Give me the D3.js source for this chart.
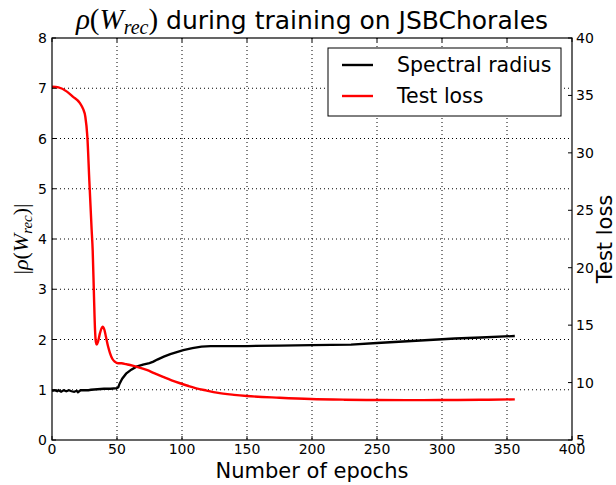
<!DOCTYPE html>
<html>
<head>
<meta charset="utf-8">
<script src="https://cdn.jsdelivr.net/npm/d3@7"></script>
<style>
  body { margin: 0; background: #fff; }
  svg { font-family: 'DejaVu Sans', sans-serif; }
  .grid line { stroke: #000; stroke-width: 1; stroke-dasharray: 1,3; }
  .tick-label { font-size: 14px; fill: #000; }
  .math { font-family: 'Liberation Serif', serif; font-style: italic; }
</style>
</head>
<body>
<svg id="chart"></svg>
<script>
// spectral radius (left axis)
const radiusEpochs = [0, 2, 4, 5, 7, 9, 11, 13, 15, 17, 19, 20, 22, 25, 28, 30, 35, 40, 45, 50,
  51, 52, 54, 57, 61, 65, 70, 75, 78, 81, 86, 91, 96, 101, 108, 115, 122, 130, 150, 175,
  200, 230, 250, 270, 290, 310, 330, 356];
const radiusValues = [0.98, 0.99, 0.97, 0.99, 0.96, 0.99, 0.97, 0.99, 0.97, 0.96, 0.98, 0.95, 0.99, 0.99, 0.99, 1.0, 1.01, 1.02, 1.02, 1.03,
  1.05, 1.12, 1.22, 1.32, 1.4, 1.46, 1.5, 1.53, 1.56, 1.6, 1.66, 1.71, 1.75, 1.79, 1.83, 1.86, 1.87, 1.87, 1.87, 1.88,
  1.89, 1.9, 1.93, 1.96, 1.99, 2.02, 2.04, 2.07];

// test loss (right axis)
const lossEpochs = [0, 5, 11.5, 16, 21.5, 24, 25.6, 27.2, 28.7, 30.5, 31.3, 32.3, 33.1, 33.8, 34.4, 35.5, 36.9, 38.9,
  40.3, 41.5, 43, 44.6, 46.5, 48.5, 50.8, 53.6, 57, 60, 66, 72.8, 79, 85.4, 92, 98.5, 105, 111, 119, 126.7,
  140, 149.8, 175, 199, 225, 249.8, 275, 298, 330, 356];
const lossValues = [35.76, 35.7, 35.33, 34.9, 34.33, 33.8, 33.17, 31.4, 27.6, 23.3, 21.5, 17.5, 14.58, 13.5, 13.3, 13.6, 14.3, 14.86,
  14.6, 13.99, 13.2, 12.57, 12.05, 11.8, 11.68, 11.68, 11.6, 11.53, 11.35, 11.1, 10.8, 10.5, 10.2, 9.94, 9.7, 9.5, 9.3, 9.12,
  8.93, 8.83, 8.68, 8.57, 8.51, 8.48, 8.47, 8.48, 8.5, 8.54];

const xTicks = [0, 50, 100, 150, 200, 250, 300, 350, 400];
const leftTicks = [0, 1, 2, 3, 4, 5, 6, 7, 8];
const rightTicks = [5, 10, 15, 20, 25, 30, 35, 40];
const legendLabels = ['Spectral radius', 'Test loss'];
const colors = ['#000000', '#ff0000'];

const fullWidth = 616;
const fullHeight = 485;
const margin = { top: 38, right: 44, bottom: 45, left: 52 };
const width = fullWidth - margin.left - margin.right;
const height = fullHeight - margin.top - margin.bottom;

const x = d3.scaleLinear().domain([0, 400]).range([0, width]);
const yLeft = d3.scaleLinear().domain([0, 8]).range([height, 0]);
const yRight = d3.scaleLinear().domain([5, 40]).range([height, 0]);

const svg = d3.select('#chart')
    .attr('width', fullWidth)
    .attr('height', fullHeight);

const g = svg.append('g')
    .attr('transform', `translate(${margin.left}, ${margin.top})`);

// grid
const grid = g.append('g').attr('class', 'grid');
grid.selectAll('line.gx')
  .data(xTicks.slice(1, -1))
  .join('line')
    .attr('x1', d => x(d)).attr('x2', d => x(d))
    .attr('y1', 0).attr('y2', height);
grid.selectAll('line.gy')
  .data(leftTicks.slice(1, -1))
  .join('line')
    .attr('class', 'gy')
    .attr('x1', 0).attr('x2', width)
    .attr('y1', d => yLeft(d)).attr('y2', d => yLeft(d));

// lines
const radiusData = radiusEpochs.map((e, i) => ({ e, v: radiusValues[i] }));
const lossData = lossEpochs.map((e, i) => ({ e, v: lossValues[i] }));

g.append('path')
    .datum(radiusData)
    .attr('fill', 'none')
    .attr('stroke', colors[0])
    .attr('stroke-width', 2.3)
    .attr('d', d3.line().x(d => x(d.e)).y(d => yLeft(d.v)));

g.append('path')
    .datum(lossData)
    .attr('fill', 'none')
    .attr('stroke', colors[1])
    .attr('stroke-width', 2.4)
    .attr('d', d3.line().x(d => x(d.e)).y(d => yRight(d.v)).curve(d3.curveMonotoneX));

// frame
g.append('rect')
    .attr('width', width)
    .attr('height', height)
    .attr('fill', 'none')
    .attr('stroke', '#000')
    .attr('stroke-width', 1.2);

// ticks (inward, matplotlib classic)
const tl = 4;
xTicks.forEach((t) => {
  g.append('line').attr('x1', x(t)).attr('x2', x(t)).attr('y1', height).attr('y2', height - tl).attr('stroke', '#000');
  g.append('line').attr('x1', x(t)).attr('x2', x(t)).attr('y1', 0).attr('y2', tl).attr('stroke', '#000');
  g.append('text').attr('class', 'tick-label')
    .attr('x', x(t)).attr('y', height + 4).attr('dy', '0.72em')
    .attr('text-anchor', 'middle').text(t);
});
leftTicks.forEach((t) => {
  g.append('line').attr('x1', 0).attr('x2', tl).attr('y1', yLeft(t)).attr('y2', yLeft(t)).attr('stroke', '#000');
  g.append('text').attr('class', 'tick-label')
    .attr('x', -5).attr('y', yLeft(t)).attr('dy', '0.36em')
    .attr('text-anchor', 'end').text(t);
});
rightTicks.forEach((t) => {
  g.append('line').attr('x1', width).attr('x2', width - tl).attr('y1', yRight(t)).attr('y2', yRight(t)).attr('stroke', '#000');
  g.append('text').attr('class', 'tick-label')
    .attr('x', width + 4).attr('y', yRight(t)).attr('dy', '0.36em')
    .attr('text-anchor', 'start').text(t);
});

// title
const title = svg.append('text')
    .attr('x', margin.left + width / 2)
    .attr('y', 29)
    .attr('text-anchor', 'middle')
    .style('font-size', '25px');
title.append('tspan').attr('class', 'math').style('font-size', '29px').text('ρ');
title.append('tspan').attr('class', 'math').style('font-style', 'normal').style('font-size', '29px').text('(');
title.append('tspan').attr('class', 'math').style('font-size', '29px').text('W');
title.append('tspan').attr('class', 'math').style('font-size', '20px').attr('dy', 5).text('rec');
title.append('tspan').attr('class', 'math').style('font-style', 'normal').style('font-size', '29px').attr('dy', -5).text(')');
title.append('tspan').text(' during training on JSBChorales');

// axis labels
svg.append('text')
    .attr('x', margin.left + width / 2)
    .attr('y', 478)
    .attr('text-anchor', 'middle')
    .style('font-size', '21px')
    .text('Number of epochs');

const yl = svg.append('text')
    .attr('transform', `translate(28, ${margin.top + height / 2}) rotate(-90)`)
    .attr('text-anchor', 'middle')
    .attr('class', 'math')
    .style('font-size', '22px');
yl.append('tspan').style('font-style', 'normal').text('|');
yl.append('tspan').text('ρ');
yl.append('tspan').style('font-style', 'normal').text('(');
yl.append('tspan').text('W');
yl.append('tspan').style('font-size', '15px').attr('dy', 4).text('rec');
yl.append('tspan').style('font-style', 'normal').attr('dy', -4).text(')|');

svg.append('text')
    .attr('transform', `translate(612, ${margin.top + height / 2}) rotate(-90)`)
    .attr('text-anchor', 'middle')
    .style('font-size', '21px')
    .text('Test loss');

// legend
const legend = svg.append('g').attr('transform', 'translate(328, 48)');
legend.append('rect')
    .attr('width', 233)
    .attr('height', 68)
    .attr('fill', '#fff')
    .attr('stroke', '#000')
    .attr('stroke-width', 1);
legendLabels.forEach((lab, i) => {
  const ly = 17 + i * 31;
  legend.append('line')
      .attr('x1', 14).attr('x2', 45)
      .attr('y1', ly).attr('y2', ly)
      .attr('stroke', colors[i])
      .attr('stroke-width', 2.4);
  legend.append('text')
      .attr('x', 69).attr('y', ly).attr('dy', '0.36em')
      .style('font-size', '20.5px')
      .text(lab);
});
</script>
</body>
</html>
